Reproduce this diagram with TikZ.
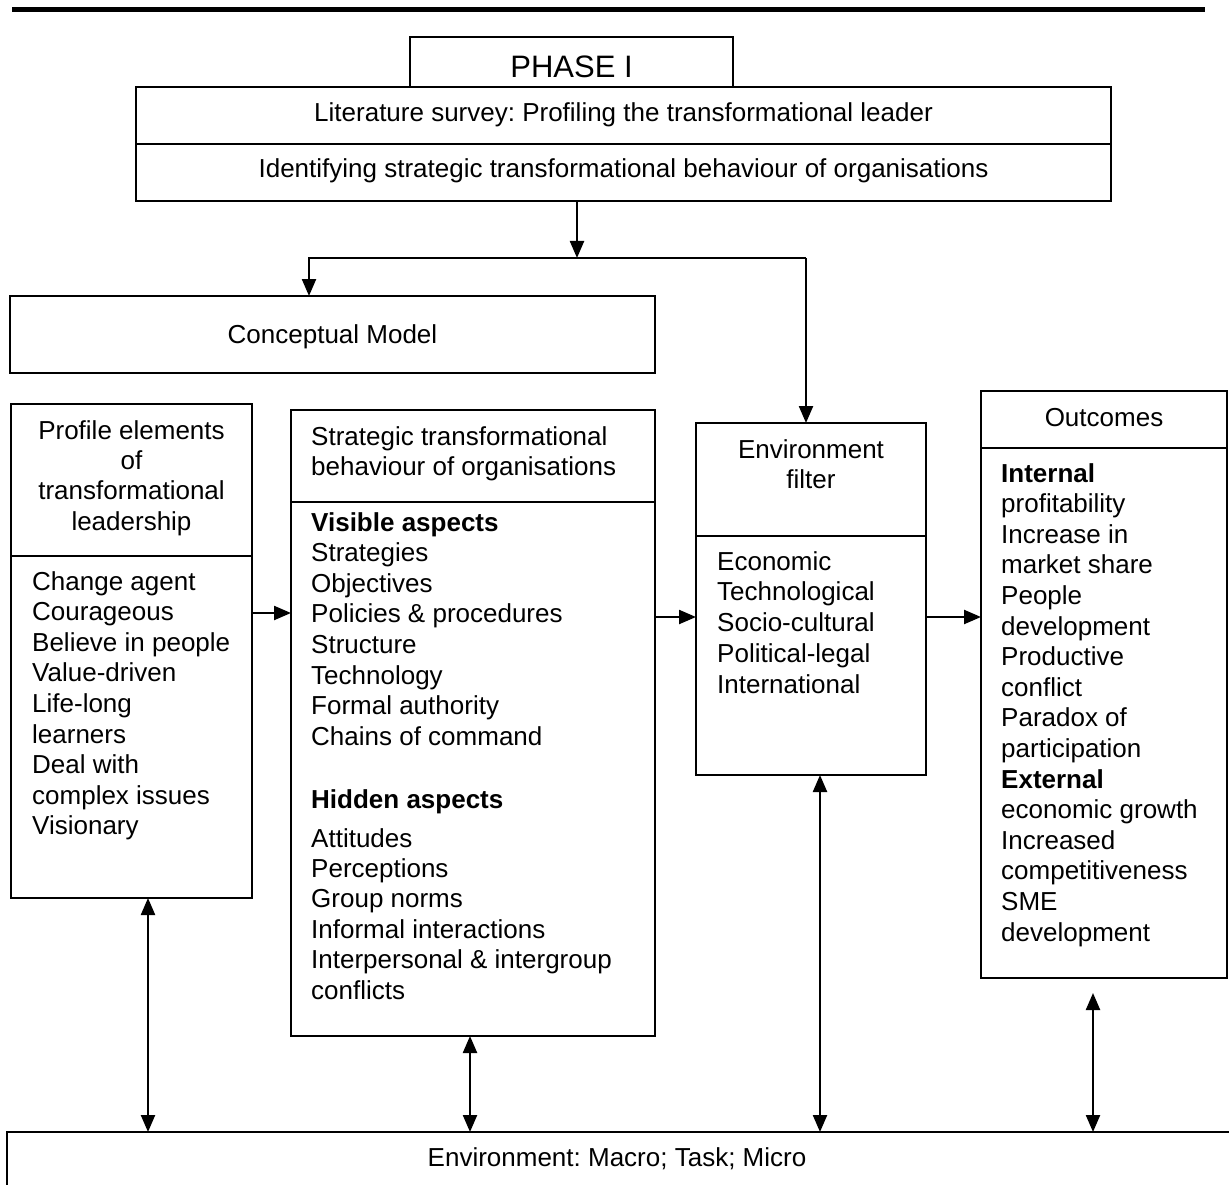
\documentclass[tikz,border=0pt]{standalone}
\usepackage{fontspec}
\setmainfont{Liberation Sans}
\usetikzlibrary{arrows.meta}
\frenchspacing
\begin{document}
\begin{tikzpicture}[x=1pt,y=-1pt,
  box/.style={draw, line width=2.3pt, inner sep=0pt, outer sep=0pt, anchor=north west},
  rule/.style={line width=2.3pt},
  tip/.tip={Triangle[length=17pt,width=14pt]},
  arr/.style={line width=2.3pt, -tip},
  darr/.style={line width=2.3pt, tip-tip},
  txt/.style={inner sep=0pt, font=\fontsize{26}{30.6}\selectfont},
  item/.style={txt, anchor=base west},
  ctr/.style={txt, anchor=base},
  hd/.style={item, font=\fontsize{26}{30.6}\selectfont\bfseries},
]
\useasboundingbox (0,0) rectangle (1229,1185);
\fill[white] (0,0) rectangle (1229,1185);

% heavy rule across the top of the page
\coordinate (ruleL) at (12,10);
\coordinate (ruleR) at (1205,10);
\draw[line width=5pt] (ruleL) -- (ruleR);

% ---- boxes ----
\node[box, minimum width=323, minimum height=50] (phase) at (410,37) {};
\node[box, minimum width=975, minimum height=114] (lit) at (136,87) {};
\node[box, minimum width=645, minimum height=77] (concept) at (10,296) {};
\node[box, minimum width=241, minimum height=494] (profile) at (11,404) {};
\node[box, minimum width=364, minimum height=626] (strat) at (291,410) {};
\node[box, minimum width=230, minimum height=352] (envf) at (696,423) {};
\node[box, minimum width=246, minimum height=587] (outc) at (981,391) {};
\node[box, minimum width=1240, minimum height=80] (envb) at (7,1132) {};

% ---- dividers inside boxes ----
\coordinate (litdiv) at (0,144);
\coordinate (profdiv) at (0,556);
\coordinate (stratdiv) at (0,502);
\coordinate (envfdiv) at (0,536);
\coordinate (outcdiv) at (0,448);
\draw[rule] (lit.west |- litdiv) -- (lit.east |- litdiv);
\draw[rule] (profile.west |- profdiv) -- (profile.east |- profdiv);
\draw[rule] (strat.west |- stratdiv) -- (strat.east |- stratdiv);
\draw[rule] (envf.west |- envfdiv) -- (envf.east |- envfdiv);
\draw[rule] (outc.west |- outcdiv) -- (outc.east |- outcdiv);

% ---- texts ----
\node[ctr, font=\fontsize{31}{36}\selectfont] (phaseT) at (571.5,78) {PHASE I};
\node[ctr] (litT1) at (623.5,122) {Literature survey: Profiling the transformational leader};
\node[ctr] (litT2) at (623.5,178) {Identifying strategic transformational behaviour of organisations};
\node[ctr] (conceptT) at (332.5,343) {Conceptual Model};

\foreach \t [count=\i from 0] in {Profile elements, of, transformational, leadership}
  \node[ctr] (profH\i) at (131.5,439+30.4*\i) {\t};
\foreach \t [count=\i from 0] in {Change agent, Courageous, Believe in people, Value-driven,
    Life-long, learners, Deal with, complex issues, Visionary}
  \node[item] (profI\i) at (32,590+30.6*\i) {\t};

\foreach \t [count=\i from 0] in {Strategic transformational, behaviour of organisations}
  \node[item] (stratH\i) at (311,445+30*\i) {\t};
\node[hd] (visT) at (311,531) {Visible aspects};
\foreach \t [count=\i from 0] in {Strategies, Objectives, Policies \& procedures, Structure,
    Technology, Formal authority, Chains of command}
  \node[item] (visI\i) at (311,561.6+30.6*\i) {\t};
\node[hd] (hidT) at (311,808) {Hidden aspects};
\foreach \t [count=\i from 0] in {Attitudes, Perceptions, Group norms, Informal interactions,
    Interpersonal \& intergroup, conflicts}
  \node[item] (hidI\i) at (311,847+30.4*\i) {\t};

\foreach \t [count=\i from 0] in {Environment, filter}
  \node[ctr] (envfH\i) at (811,458+30*\i) {\t};
\foreach \t [count=\i from 0] in {Economic, Technological, Socio-cultural, Political-legal, International}
  \node[item] (envfI\i) at (717,570+30.8*\i) {\t};

\node[ctr] (outcH) at (1104,426) {Outcomes};
\foreach \t [count=\i from 0] in {\textbf{Internal}, profitability, Increase in, market share,
    People, development, Productive, conflict, Paradox of, participation, \textbf{External},
    economic growth, Increased, competitiveness, SME, development}
  \node[item] (outcI\i) at (1001,482+30.6*\i) {\t};

\node[ctr] (envbT) at (617,1166) {Environment: Macro; Task; Micro};

% ---- connectors ----
\coordinate (jm) at (577,258);
\coordinate (jl) at (309,258);
\coordinate (jr) at (806,258);
\draw[arr] (lit.south -| jm) -- (jm);
\draw[arr] (jr) -- (jl) -- (concept.north -| jl);
\draw[arr] (jl -| jr) -- (envf.north -| jr);

\coordinate (h1) at (0,613);
\coordinate (h2) at (0,617);
\draw[arr] (profile.east |- h1) -- (strat.west |- h1);
\draw[arr] (strat.east |- h2) -- (envf.west |- h2);
\draw[arr] (envf.east |- h2) -- (outc.west |- h2);

\coordinate (v1) at (148,0);
\coordinate (v2) at (470,0);
\coordinate (v3) at (820,0);
\coordinate (oc) at (1093,993);
\draw[darr] (profile.south -| v1) -- (envb.north -| v1);
\draw[darr] (strat.south -| v2) -- (envb.north -| v2);
\draw[darr] (envf.south -| v3) -- (envb.north -| v3);
\draw[darr] (oc) -- (envb.north -| oc);
\end{tikzpicture}
\end{document}
